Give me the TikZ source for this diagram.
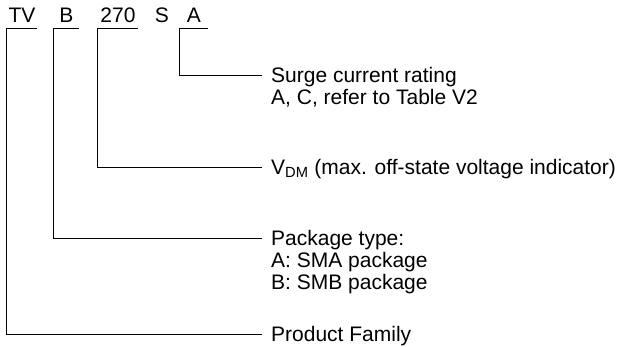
\documentclass[tikz,border=0pt]{standalone}
\usepackage{fontspec}
\setmainfont{Liberation Sans}
\begin{document}
\begin{tikzpicture}[x=1pt,y=-1pt,
  code/.style={font=\fontsize{21}{25}\selectfont, anchor=south, inner xsep=0pt, inner ysep=5pt, text depth=0pt},
  lab/.style={font=\fontsize{21}{24}\selectfont, anchor=base west, inner sep=0pt, text height=15pt, text depth=0pt},
  conn/.style={line width=0.9pt, shorten >=9pt}]
\useasboundingbox (0,0) rectangle (621,347);
% code parts
\node[code, minimum width=30pt] (tv) at (22,28) {TV};
\node[code, minimum width=25pt] (b) at (66.5,28) {B};
\node[code, minimum width=40pt] (v) at (118,28) {270};
\node[code] (s) at (162,28) {S};
\node[code, minimum width=28pt] (a) at (194,28) {A};
% labels
\node[lab] (la1) at (271,82.5) {Surge current rating};
\node[lab] (la2) at (271,104.5) {A, C, refer to Table V2};
\node[lab] (lv) at (271,174.5) {V\textsubscript{DM} (max. off-state voltage indicator)};
\node[lab] (lb1) at (271,245.5) {Package type:};
\node[lab] (lb2) at (271,267.5) {A: SMA package};
\node[lab] (lb3) at (271,289.5) {B: SMB package};
\node[lab] (lp) at (271,341.5) {Product Family};
% connectors
\draw[conn] (a.south east) -- (a.south west) |- (la1.west);
\draw[conn] (v.south east) -- (v.south west) |- (lv.west);
\draw[conn] (b.south east) -- (b.south west) |- (lb1.west);
\draw[conn] (tv.south east) -- (tv.south west) |- (lp.west);
\end{tikzpicture}
\end{document}
